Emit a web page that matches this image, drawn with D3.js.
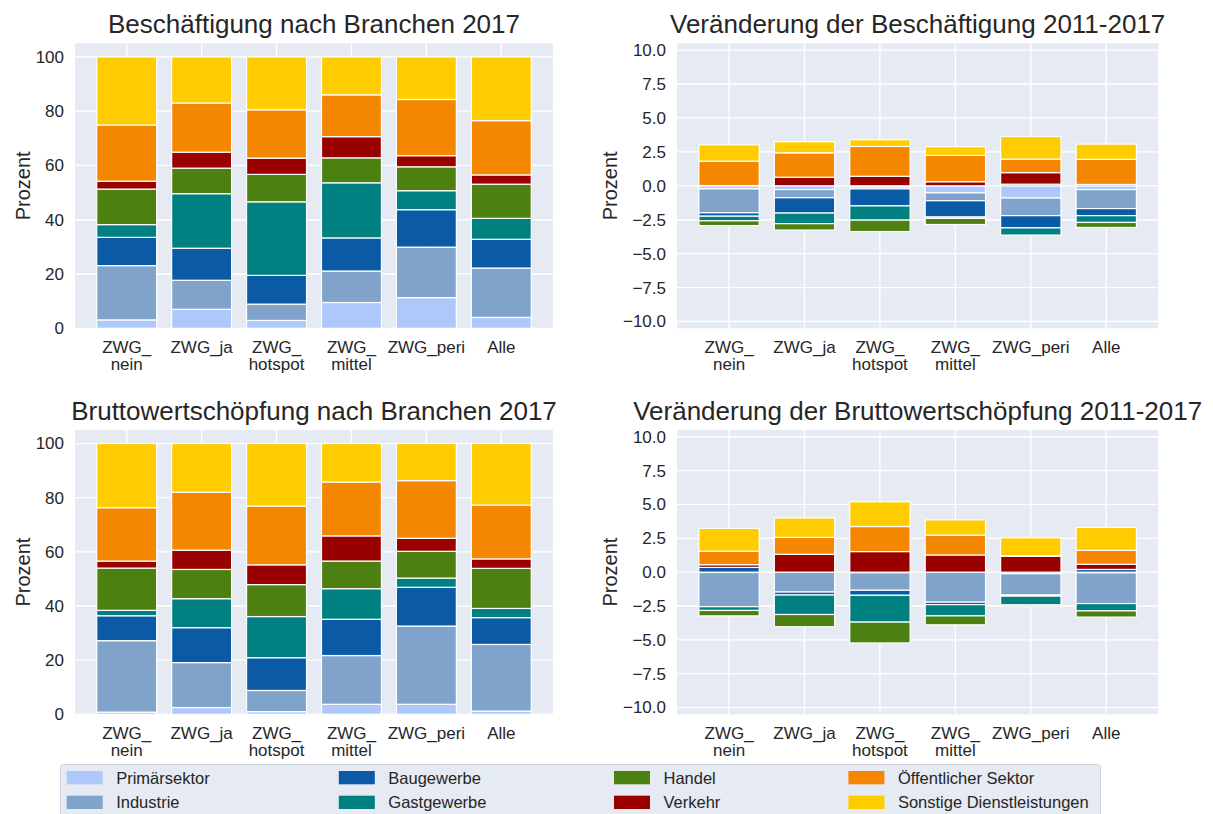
<!DOCTYPE html>
<html>
<head>
<meta charset="utf-8">
<script src="https://cdn.jsdelivr.net/npm/d3@7"></script>
<style>
  body { margin: 0; background: #fff; }
  svg text { font-family: "Liberation Sans", Arial, sans-serif; fill: #262626; }
</style>
</head>
<body>
<div id="chart"></div>
<script>
// categories and sectors
var categories = ["ZWG_\nnein", "ZWG_ja", "ZWG_\nhotspot", "ZWG_\nmittel", "ZWG_peri", "Alle"];
var sectors = ["Primärsektor", "Industrie", "Baugewerbe", "Gastgewerbe", "Handel", "Verkehr", "Öffentlicher Sektor", "Sonstige Dienstleistungen"];
var sectorColors = ["#aec8fb", "#80a3cc", "#0b5aa6", "#008080", "#4c8010", "#990000", "#f58600", "#ffcc00"];

// one row per category, one value per sector (Prozent)
var beschAnteil2017 = [
    [3.1, 20.0, 10.4, 4.7, 13.1, 2.9, 20.7, 25.1],
    [7.0, 10.7, 11.8, 20.1, 9.4, 5.9, 18.1, 17.0],
    [2.9, 6.0, 10.6, 27.1, 10.1, 6.0, 17.8, 19.5],
    [9.5, 11.6, 12.2, 20.3, 9.2, 7.8, 15.4, 14.0],
    [11.3, 18.6, 13.8, 7.0, 8.8, 4.1, 20.7, 15.7],
    [4.0, 18.2, 10.6, 7.7, 12.6, 3.4, 20.0, 23.5]
];
var beschAenderung = [
    [-0.23, -1.76, -0.25, -0.34, -0.35, 0.02, 1.8, 1.2],
    [-0.28, -0.6, -1.13, -0.78, -0.47, 0.63, 1.8, 0.82],
    [-0.1, -0.13, -1.25, -1.05, -0.84, 0.7, 2.2, 0.5],
    [-0.52, -0.58, -1.2, -0.1, -0.45, 0.3, 1.94, 0.64],
    [-0.9, -1.3, -0.9, -0.53, 0.12, 0.85, 1.0, 1.66],
    [-0.28, -1.4, -0.52, -0.5, -0.37, 0.1, 1.85, 1.12]
];
var bwsAnteil2017 = [
    [0.8, 26.4, 9.2, 2.0, 15.6, 2.6, 19.7, 23.7],
    [2.5, 16.6, 12.9, 10.7, 10.8, 7.1, 21.4, 18.0],
    [1.0, 7.8, 12.1, 15.2, 11.8, 7.3, 21.7, 23.1],
    [3.7, 18.0, 13.4, 11.3, 10.2, 9.3, 19.9, 14.2],
    [3.7, 28.9, 14.3, 3.4, 9.9, 4.8, 21.3, 13.7],
    [1.2, 24.6, 9.9, 3.4, 14.8, 3.5, 19.9, 22.7]
];
var bwsAenderung = [
    [-0.03, -2.52, 0.35, -0.28, -0.4, 0.2, 1.0, 1.68],
    [-0.02, -1.45, -0.22, -1.44, -0.9, 1.32, 1.25, 1.43],
    [-0.05, -1.29, -0.37, -1.98, -1.54, 1.52, 1.85, 1.83],
    [-0.02, -2.2, -0.18, -0.83, -0.66, 1.27, 1.47, 1.12],
    [-0.12, -1.57, -0.08, -0.65, -0.1, 1.17, 0.05, 1.32],
    [-0.05, -2.27, 0.2, -0.54, -0.46, 0.38, 1.03, 1.69]
];

// tick labels
var shareTicks = [0, 20, 40, 60, 80, 100];
var changeTicks = [-10, -7.5, -5, -2.5, 0, 2.5, 5, 7.5, 10];

var panels = [
    { title: "Beschäftigung nach Branchen 2017", data: beschAnteil2017, left: 75, right: 553, top: 43.3, bottom: 328.3, domain: [0, 105], ticks: shareTicks, fmt: d3.format("d"), labelOffset: -45 },
    { title: "Veränderung der Beschäftigung 2011-2017", data: beschAenderung, left: 677, right: 1158.3, top: 43.3, bottom: 328.3, domain: [-10.5, 10.5], ticks: changeTicks, fmt: d3.format(".1f"), labelOffset: -60 },
    { title: "Bruttowertschöpfung nach Branchen 2017", data: bwsAnteil2017, left: 75, right: 553, top: 430, bottom: 714.3, domain: [0, 105], ticks: shareTicks, fmt: d3.format("d"), labelOffset: -45 },
    { title: "Veränderung der Bruttowertschöpfung 2011-2017", data: bwsAenderung, left: 677, right: 1158.3, top: 430, bottom: 714.3, domain: [-10.5, 10.5], ticks: changeTicks, fmt: d3.format(".1f"), labelOffset: -60 }
];

var W = 1213, H = 814;
var bg = "#e5eaf3";

var svg = d3.select("#chart").append("svg")
    .attr("width", W)
    .attr("height", H);

var stack = d3.stack()
    .keys(d3.range(sectors.length))
    .value((row, k) => row[k])
    .offset(d3.stackOffsetDiverging);

panels.forEach(function (p) {
    var width = p.right - p.left;
    var height = p.bottom - p.top;
    var g = svg.append("g").attr("transform", `translate(${p.left},${p.top})`);

    var x = d3.scaleBand()
        .domain(d3.range(categories.length))
        .range([0, width])
        .paddingInner(0.2)
        .paddingOuter(0.29);

    var y = d3.scaleLinear().domain(p.domain).range([height, 0]);

    g.append("rect")
        .attr("width", width)
        .attr("height", height)
        .attr("fill", bg);

    // grid
    g.selectAll(".hgrid")
        .data(p.ticks)
        .enter().append("line")
        .attr("x1", 0).attr("x2", width)
        .attr("y1", d => y(d)).attr("y2", d => y(d))
        .attr("stroke", "#fff")
        .attr("stroke-width", 1.3);

    g.selectAll(".vgrid")
        .data(d3.range(categories.length))
        .enter().append("line")
        .attr("x1", d => x(d) + x.bandwidth() / 2)
        .attr("x2", d => x(d) + x.bandwidth() / 2)
        .attr("y1", 0).attr("y2", height)
        .attr("stroke", "#fff")
        .attr("stroke-width", 1.3);

    // stacked bars
    var series = stack(p.data);
    series.forEach(function (s, k) {
        g.selectAll(".bar" + k)
            .data(s)
            .enter().append("rect")
            .attr("x", (d, i) => x(i))
            .attr("width", x.bandwidth())
            .attr("y", d => y(Math.max(d[0], d[1])))
            .attr("height", d => Math.abs(y(d[0]) - y(d[1])))
            .attr("fill", sectorColors[k])
            .attr("stroke", "#fff")
            .attr("stroke-width", 1.2);
    });

    // y axis
    var yAxis = g.append("g")
        .call(d3.axisLeft(y).tickValues(p.ticks).tickFormat(p.fmt).tickSize(0).tickPadding(11));
    yAxis.select(".domain").remove();
    yAxis.selectAll("text")
        .style("font-size", "17px")
        .style("font-family", "'Liberation Sans', Arial, sans-serif")
        .attr("fill", "#262626");

    // x axis with two-line labels
    var xAxis = g.append("g")
        .attr("transform", `translate(0,${height})`)
        .call(d3.axisBottom(x).tickSize(0).tickFormat(""));
    xAxis.select(".domain").remove();
    xAxis.selectAll(".tick").each(function (d) {
        var t = d3.select(this).append("text")
            .attr("text-anchor", "middle")
            .style("font-size", "17px")
            .attr("fill", "#262626");
        categories[d].split("\n").forEach(function (line, li) {
            t.append("tspan").attr("x", 0).attr("y", 24.5 + li * 17).text(line);
        });
    });

    // title
    g.append("text")
        .attr("x", width / 2)
        .attr("y", -10)
        .attr("text-anchor", "middle")
        .style("font-size", "26px")
        .text(p.title);

    // y label
    g.append("text")
        .attr("transform", `translate(${p.labelOffset},${height / 2}) rotate(-90)`)
        .attr("text-anchor", "middle")
        .style("font-size", "20px")
        .text("Prozent");
});

// legend
var legend = svg.append("g");
legend.append("rect")
    .attr("x", 60.5).attr("y", 764.5)
    .attr("width", 1040).attr("height", 70)
    .attr("rx", 3)
    .attr("fill", bg)
    .attr("stroke", "#cfd3da")
    .attr("stroke-width", 1);

var legendCols = [66.7, 338.8, 614, 848.4];
sectors.forEach(function (name, i) {
    var col = Math.floor(i / 2), row = i % 2;
    var lx = legendCols[col], ly = 771 + row * 24.7;
    legend.append("rect")
        .attr("x", lx).attr("y", ly)
        .attr("width", 36).attr("height", 13.3)
        .attr("fill", sectorColors[i]);
    legend.append("text")
        .attr("x", lx + 49.5)
        .attr("y", ly + 12.5)
        .style("font-size", "16.5px")
        .text(name);
});
</script>
</body>
</html>
